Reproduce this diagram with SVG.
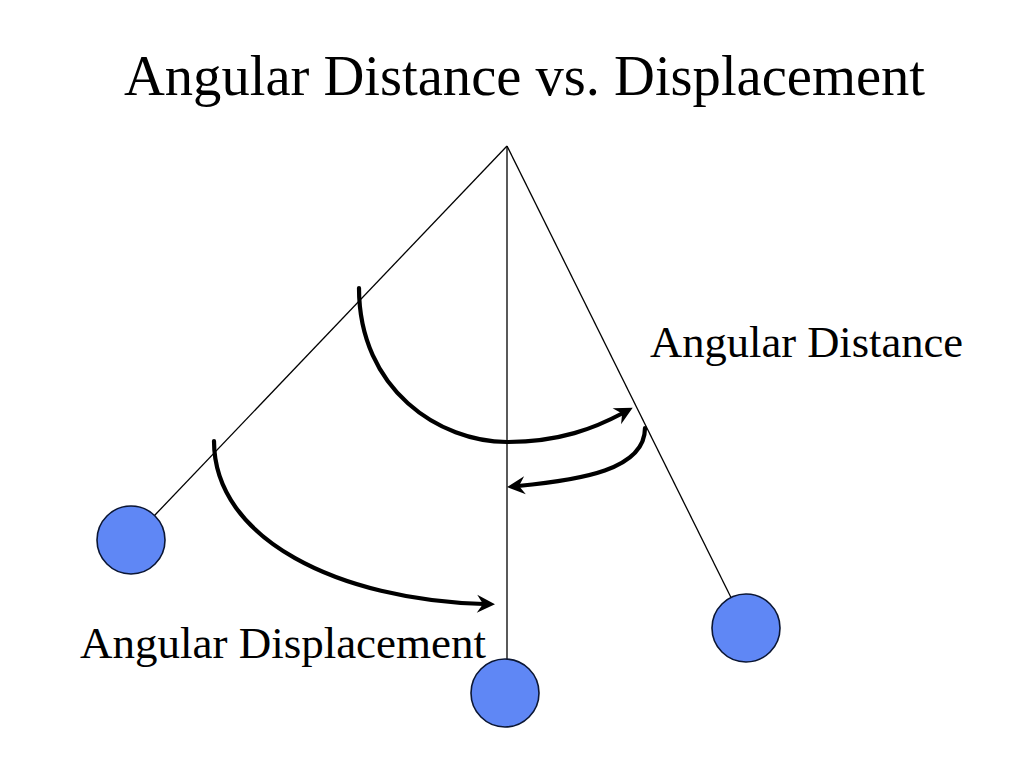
<svg xmlns="http://www.w3.org/2000/svg" width="1024" height="768" viewBox="0 0 1024 768">
<style>
.rod{stroke:#000;stroke-width:1.3;fill:none}
.bob{fill:#5f87f5;stroke:#0b1633;stroke-width:1.6}
.arc{stroke:#000;stroke-width:4.2;fill:none;stroke-linecap:round}
.t{font-family:"Liberation Serif","Times New Roman",serif;fill:#000}
</style>
<defs>
<marker id="ah" markerUnits="userSpaceOnUse" markerWidth="34" markerHeight="34" viewBox="-14 -17 34 34" refX="0" refY="0" orient="auto">
<path d="M11,0 L-7,-9 L-1,0 L-7,9 Z" fill="#000"/>
</marker>
</defs>
<rect width="1024" height="768" fill="#fff"/>
<text class="t" x="124" y="95" font-size="58" textLength="801" lengthAdjust="spacingAndGlyphs">Angular Distance vs. Displacement</text>
<g id="connectors">
<line class="rod" x1="507" y1="146" x2="154.5" y2="515.5"/>
<line class="rod" x1="507" y1="146" x2="507" y2="659"/>
<line class="rod" x1="507" y1="146" x2="731" y2="597.5"/>
<path class="arc" d="M359,288 C359,390 440,442 507,442 C560,442 595,428 623,413" marker-end="url(#ah)"/>
<path class="arc" d="M645,428 C645,470 580,480 518,486" marker-end="url(#ah)"/>
<path class="arc" d="M214,441 C214,540 340,600 484,604" marker-end="url(#ah)"/>
</g>
<g id="bob-left"><circle class="bob" cx="131" cy="540" r="34"/></g>
<g id="bob-right"><circle class="bob" cx="746" cy="628" r="34"/></g>
<g id="bob-center"><circle class="bob" cx="505" cy="693" r="34"/></g>
<g id="label-distance"><text class="t" x="650" y="357" font-size="44" textLength="313" lengthAdjust="spacingAndGlyphs">Angular Distance</text></g>
<g id="label-displacement"><text class="t" x="80" y="658" font-size="44" textLength="406" lengthAdjust="spacingAndGlyphs">Angular Displacement</text></g>
</svg>
